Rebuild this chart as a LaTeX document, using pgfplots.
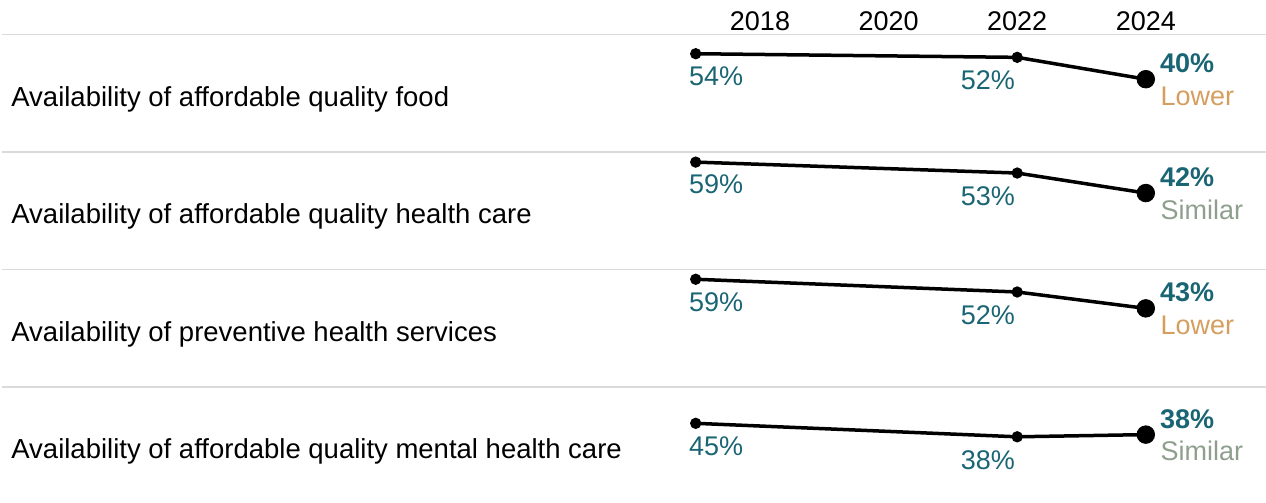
\documentclass[border=0pt]{standalone}
\usepackage{pgfplots}
\pgfplotsset{compat=1.18}
\usepackage{fontspec}
\setmainfont{Liberation Sans}
\definecolor{tealv}{HTML}{1A6573}
\definecolor{lowerc}{HTML}{D59E5F}
\definecolor{simc}{HTML}{8F9F8E}
\definecolor{sepc}{HTML}{DADADA}
\newcommand{\fs}{\fontsize{13.5}{16}\selectfont}
\newcommand{\fl}{\fontsize{13.75}{16}\selectfont}
\pgfplotsset{
  rowax/.style={
    x=32.15pt, y=0.91pt, xmin=2017, xmax=2024, ymin=0, ymax=64.56,
    enlargelimits=false, clip=false, anchor=south west,
    axis line style={draw=none}, ytick=\empty, xtick=\empty,
    major tick length=0pt, scale only axis,
  },
  trend/.style={black, line width=1.75pt, mark=*, mark size=1.9pt, mark options={solid}},
  last/.style={black, mark=*, mark size=4.4pt, only marks},
}
\tikzset{
  vlab/.style={text=tealv, font=\fs, inner sep=0pt},
  flab/.style={text=tealv, font=\fs\bfseries, inner sep=0pt, anchor=base west, xshift=7pt, yshift=3.2pt},
  clab/.style={font=\fs, inner sep=0pt, anchor=base west, xshift=7.2pt, yshift=-13pt},
  rlab/.style={anchor=base west, inner sep=0pt, font=\fl},
}
\begin{document}
\begin{tikzpicture}
\path[use as bounding box] (0pt,0pt) rectangle (633pt,-251.5pt);
% separators
\foreach \yy in {-17.25,-76,-134.75,-193.5}{
  \draw[sepc, line width=0.7pt] (1pt,\yy pt) -- (633pt,\yy pt);
}
% row labels
\node[rlab] at (5.5pt,-53.1pt) {Availability of affordable quality food};
\node[rlab] at (5.5pt,-111.9pt) {Availability of affordable quality health care};
\node[rlab] at (5.5pt,-170.6pt) {Availability of preventive health services};
\node[rlab] at (5.5pt,-229.4pt) {Availability of affordable quality mental health care};

% Row 1
\begin{axis}[rowax, at={(347.85pt,-76pt)},
  xtick={2018,2020,2022,2024}, xticklabel pos=upper,
  /pgf/number format/1000 sep={}, /pgf/number format/assume math mode=true,
  xticklabel style={font=\fs, anchor=base, inner sep=0pt, yshift=2.0pt}]
\addplot[trend] coordinates {(2017,54) (2022,52) (2024,40)};
\addplot[last] coordinates {(2024,40)};
\node[vlab, anchor=north west, xshift=-3.5pt, yshift=-6.3pt] at (axis cs:2017,54) {54\%};
\node[vlab, anchor=north east, xshift=-1pt, yshift=-6.5pt] at (axis cs:2022,52) {52\%};
\node[flab] at (axis cs:2024,40) {40\%};
\node[clab, text=lowerc] at (axis cs:2024,40) {Lower};
\end{axis}

% Row 2
\begin{axis}[rowax, at={(347.85pt,-134.75pt)}]
\addplot[trend] coordinates {(2017,59) (2022,53) (2024,42)};
\addplot[last] coordinates {(2024,42)};
\node[vlab, anchor=north west, xshift=-3.5pt, yshift=-6.3pt] at (axis cs:2017,59) {59\%};
\node[vlab, anchor=north east, xshift=-1pt, yshift=-6.5pt] at (axis cs:2022,53) {53\%};
\node[flab] at (axis cs:2024,42) {42\%};
\node[clab, text=simc] at (axis cs:2024,42) {Similar};
\end{axis}

% Row 3
\begin{axis}[rowax, at={(347.85pt,-193.5pt)}]
\addplot[trend] coordinates {(2017,59.2) (2022,52.2) (2024,43.2)};
\addplot[last] coordinates {(2024,43.2)};
\node[vlab, anchor=north west, xshift=-3.5pt, yshift=-6.3pt] at (axis cs:2017,59.2) {59\%};
\node[vlab, anchor=north east, xshift=-1pt, yshift=-6.5pt] at (axis cs:2022,52.2) {52\%};
\node[flab] at (axis cs:2024,43.2) {43\%};
\node[clab, text=lowerc] at (axis cs:2024,43.2) {Lower};
\end{axis}

% Row 4
\begin{axis}[rowax, at={(347.85pt,-252.25pt)}]
\addplot[trend] coordinates {(2017,44.6) (2022,37.2) (2024,38.4)};
\addplot[last] coordinates {(2024,38.4)};
\node[vlab, anchor=north west, xshift=-3.5pt, yshift=-6.3pt] at (axis cs:2017,44.6) {45\%};
\node[vlab, anchor=north east, xshift=-1pt, yshift=-6.5pt] at (axis cs:2022,37.2) {38\%};
\node[flab] at (axis cs:2024,38.4) {38\%};
\node[clab, text=simc] at (axis cs:2024,38.4) {Similar};
\end{axis}
\end{tikzpicture}
\end{document}
